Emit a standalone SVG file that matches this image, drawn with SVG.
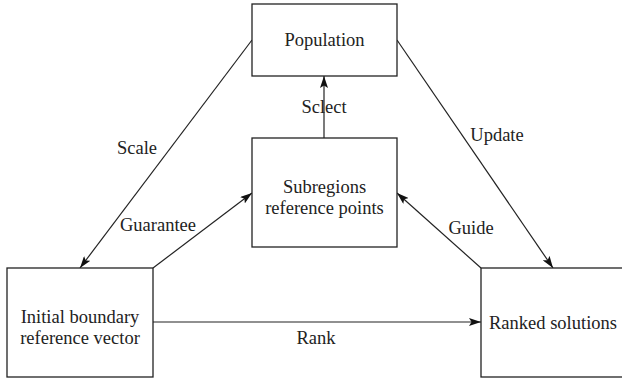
<svg xmlns="http://www.w3.org/2000/svg" width="622" height="381" viewBox="0 0 622 381">
<style>
.box{fill:#fff;stroke:#222;stroke-width:1.3}
.t{font-family:'Liberation Serif','Times New Roman',serif;font-size:18.5px;fill:#222;text-anchor:middle}
.c{stroke:#222;stroke-width:1.2;fill:none;marker-end:url(#ah)}
</style>
<defs>
<marker id="ah" viewBox="0 0 12 8" refX="12" refY="4" markerWidth="12" markerHeight="8" markerUnits="userSpaceOnUse" orient="auto">
<path d="M0,0 L12,4 L0,8 L2.5,4 Z" fill="#111"/>
</marker>
</defs>
<rect width="622" height="381" fill="#fff"/>
<g id="connectors">
<line class="c" x1="252" y1="40" x2="80" y2="268"/>
<line class="c" x1="397" y1="40" x2="553" y2="268"/>
<line class="c" x1="324" y1="138" x2="324" y2="76"/>
<line class="c" x1="153" y1="268" x2="252" y2="193"/>
<line class="c" x1="481" y1="268" x2="397" y2="193"/>
<line class="c" x1="153" y1="322" x2="481" y2="322"/>
<text class="t" x="137" y="154">Scale</text>
<text class="t" x="158" y="231">Guarantee</text>
<text class="t" x="497" y="141">Update</text>
<text class="t" x="471" y="234">Guide</text>
<text class="t" x="324" y="113">Sclect</text>
<text class="t" x="316" y="344">Rank</text>
</g>
<g id="population">
<rect class="box" x="252" y="4" width="145" height="72"/>
<text class="t" x="324.5" y="46">Population</text>
</g>
<g id="subregions">
<rect class="box" x="252" y="138" width="145" height="109"/>
<text class="t" x="324.5" y="193">Subregions</text>
<text class="t" x="324.5" y="214">reference points</text>
</g>
<g id="initial">
<rect class="box" x="7" y="268" width="146" height="109"/>
<text class="t" x="80" y="323">Initial boundary</text>
<text class="t" x="80" y="344">reference vector</text>
</g>
<g id="ranked">
<rect class="box" x="481" y="268" width="150" height="109"/>
<text class="t" x="553" y="329">Ranked solutions</text>
</g>
</svg>
